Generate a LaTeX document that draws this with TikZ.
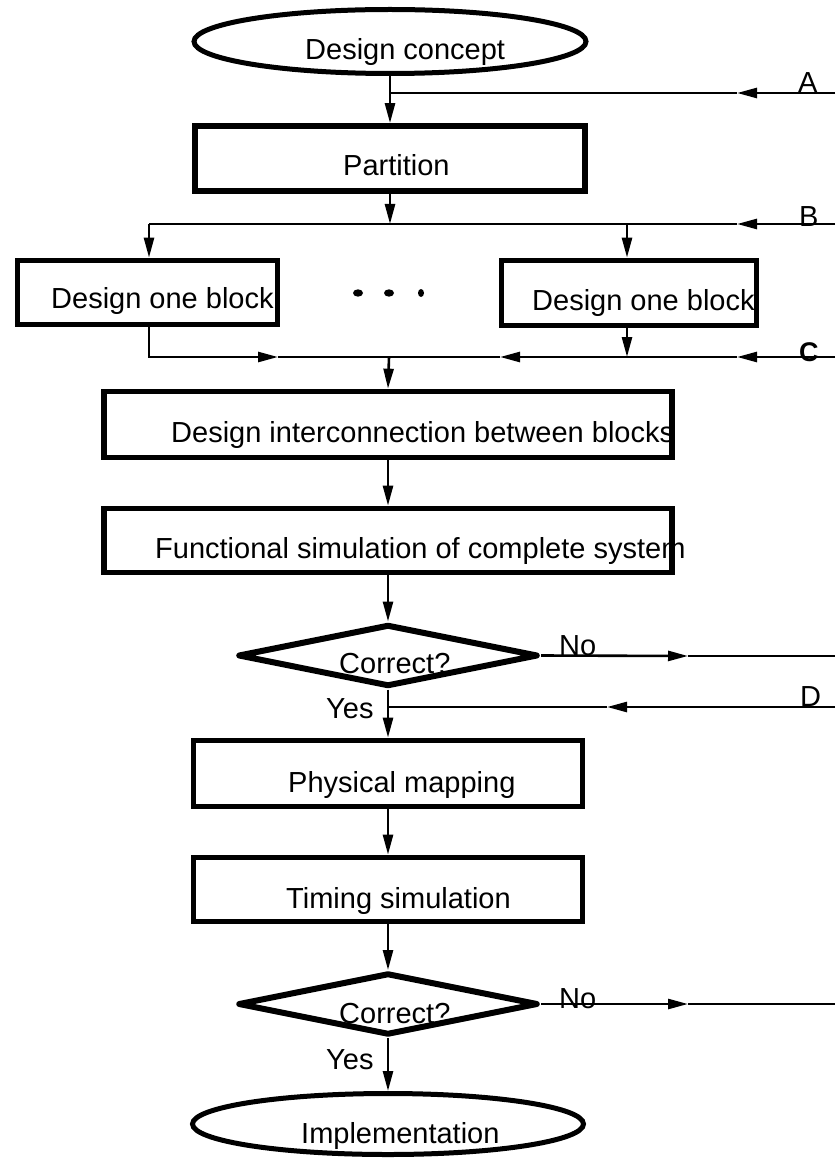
\documentclass[tikz,border=0pt]{standalone}
\usepackage{fontspec}
\setmainfont{Liberation Sans}
\usetikzlibrary{shapes.geometric,arrows.meta}
\begin{document}
\begin{tikzpicture}[x=1pt,y=-1pt,
  boxshape/.style={draw,line width=5.7pt,inner sep=0pt,rectangle},
  ovalshape/.style={draw,line width=5pt,inner sep=0pt,ellipse},
  diashape/.style={draw,line width=6pt,inner sep=0pt,diamond,line join=round},
  lbl/.style={inner sep=0pt,anchor=base west,font=\fontsize{29}{34}\selectfont},
  conn/.style={line width=2.6pt},
  arr/.style={line width=2.6pt,-{Triangle[length=20pt,width=10pt]}},
  blob/.style={fill=black,draw=none}]
\useasboundingbox (0,0) rectangle (835,1158);
% shapes
\node[ovalshape,minimum width=392pt,minimum height=64pt] (conc) at (390,41.5) {};
\node[boxshape,minimum width=390pt,minimum height=65pt] (part) at (390,158.5) {};
\node[boxshape,minimum width=260pt,minimum height=64pt] (blkL) at (147.5,292.5) {};
\node[boxshape,minimum width=255pt,minimum height=65pt] (blkR) at (629,293) {};
\node[boxshape,minimum width=568pt,minimum height=66pt] (inter) at (388,424.5) {};
\node[boxshape,minimum width=568pt,minimum height=64pt] (func) at (388,540.5) {};
\node[diashape,minimum width=300pt,minimum height=62pt] (dia1) at (388,655.5) {};
\node[boxshape,minimum width=389pt,minimum height=66pt] (phys) at (388,773.5) {};
\node[boxshape,minimum width=389pt,minimum height=64pt] (tim) at (388,889.5) {};
\node[diashape,minimum width=300pt,minimum height=62pt] (dia2) at (388,1004) {};
\node[ovalshape,minimum width=391pt,minimum height=61pt] (impl) at (388,1124) {};
% dots
\fill[blob] (358,293) ellipse [x radius=5pt,y radius=3.7pt];
\fill[blob] (389,293) ellipse [x radius=5pt,y radius=3.7pt];
\fill[blob] (421,293) ellipse [x radius=3pt,y radius=4pt];
% texts
\node[lbl] (tconc) at (305,60) {Design concept};
\node[lbl] (tpart) at (343,176) {Partition};
\node[lbl] (tblkL) at (51,308) {Design one block};
\node[lbl] (tblkR) at (532,310) {Design one block};
\node[lbl] (tinter) at (171,442) {Design interconnection between blocks};
\node[lbl] (tfunc) at (155,558) {Functional simulation of complete system};
\node[lbl] (tdia1) at (339,673) {Correct?};
\node[lbl] (tno1) at (559,655) {No};
\node[lbl] (tyes1) at (326,718) {Yes};
\node[lbl] (tphys) at (288,792) {Physical mapping};
\node[lbl] (ttim) at (286,908) {Timing simulation};
\node[lbl] (tdia2) at (339,1023) {Correct?};
\node[lbl] (tno2) at (559,1008) {No};
\node[lbl] (tyes2) at (326,1069) {Yes};
\node[lbl] (timpl) at (301,1143) {Implementation};
\node[lbl] (tA) at (798,93) {A};
\node[lbl] (tB) at (799,226) {B};
\node[lbl,font=\fontsize{27}{32}\selectfont\bfseries] (tC) at (799,361) {C};
\node[lbl] (tD) at (800,706) {D};
% coordinates
\coordinate (rA) at (835,93);  \coordinate (kA) at (737,93);  \coordinate (jA) at (390,93);
\coordinate (rB) at (835,224); \coordinate (kB) at (737,224); \coordinate (jB) at (390,224);
\coordinate (lB) at (149,224); \coordinate (mB) at (627,224);
\coordinate (rC) at (835,357); \coordinate (kC1) at (737,357); \coordinate (kC2) at (500,357);
\coordinate (jC) at (389,357); \coordinate (lC) at (149,357); \coordinate (kCL) at (278,357);
\coordinate (mC) at (627,357);
\coordinate (rN1) at (835,656); \coordinate (kN1) at (688,656);
\coordinate (rD) at (835,707); \coordinate (kD) at (607,707); \coordinate (jD) at (388,707);
\coordinate (rN2) at (835,1004); \coordinate (kN2) at (688,1004);
% connectors
\draw[arr] (conc.south) -- (part.north);
\draw[arr] (rA) -- (kA);
\draw[conn] (kA) -- (jA);
\draw[arr] (part.south) -- (jB);
\draw[arr] (rB) -- (kB);
\draw[conn] (kB) -- (lB);
\draw[arr] (lB) -- (lB |- blkL.north);
\draw[arr] (mB) -- (mB |- blkR.north);
\draw[arr] (lB |- blkL.south) -- (lC) -- (kCL);
\draw[conn] (kCL) -- (jC);
\draw[arr] (mB |- blkR.south) -- (mC);
\draw[arr] (rC) -- (kC1);
\draw[arr] (kC1) -- (kC2);
\draw[conn] (kC2) -- (jC);
\draw[arr] (jC) -- (inter.north);
\draw[arr] (inter.south) -- (func.north);
\draw[arr] (func.south) -- (dia1.north);
\draw[arr] (dia1.east) -- (kN1);
\draw[conn] (kN1) -- (rN1);
\draw[arr] (rD) -- (kD);
\draw[conn] (kD) -- (jD);
\draw[arr] (dia1.south) -- (phys.north);
\draw[arr] (phys.south) -- (tim.north);
\draw[arr] (tim.south) -- (dia2.north);
\draw[arr] (dia2.east) -- (kN2);
\draw[conn] (kN2) -- (rN2);
\draw[arr] (dia2.south) -- (impl.north);
\end{tikzpicture}
\end{document}
